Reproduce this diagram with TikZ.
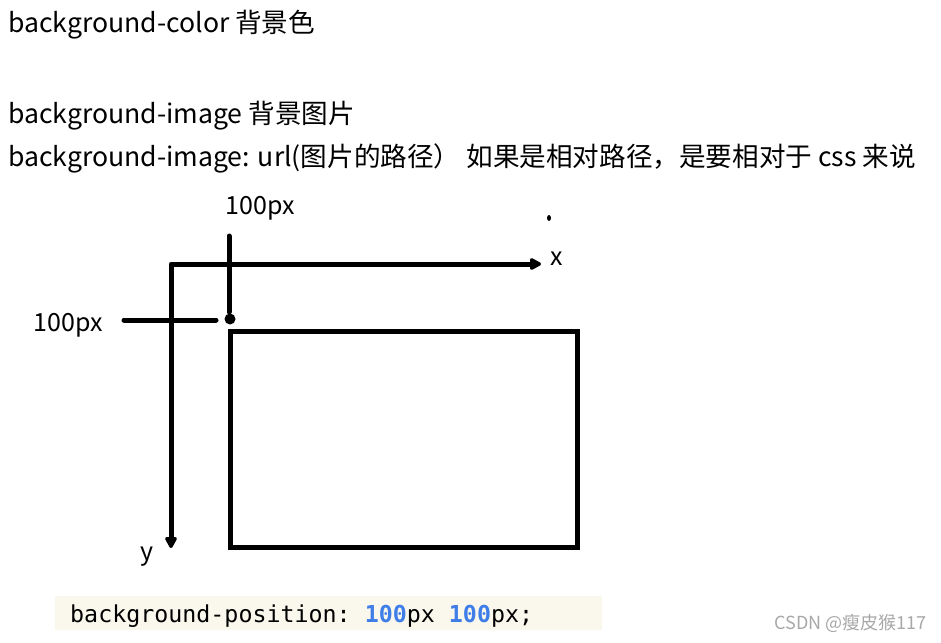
\documentclass[tikz,border=0pt]{standalone}
\usepackage{fontspec}
\setmainfont{Noto Sans CJK SC}
\setmonofont{DejaVu Sans Mono}
\usetikzlibrary{arrows.meta}
\definecolor{codebg}{HTML}{FAF8EC}
\definecolor{numblue}{HTML}{3F7DE8}
\definecolor{wmgray}{HTML}{A8A8A8}
\tikzset{axtip/.tip={Triangle[length=13pt,width=13pt,round]}}
\begin{document}
\begin{tikzpicture}[x=1pt,y=-1pt,
  txt/.style={inner sep=0pt, font=\fontsize{26.6}{30}\selectfont},
  lbl/.style={inner sep=0pt, font=\fontsize{25}{28}\selectfont},
  ax/.style={line width=5pt, line cap=round, line join=round}]
\useasboundingbox[fill=white] (0,0) rectangle (941,642);
% top text
\node[txt, anchor=base west] (l1) at (8,33) {background-color 背景色};
\node[txt, anchor=base west] (l2) at (8,123) {background-image 背景图片};
\node[txt, anchor=base west] (l3) at (8,166) {background-image: url(图片的路径）\ 如果是相对路径，是要相对于 css 来说};
% axes
\coordinate (o) at (171,264);
\coordinate (xe) at (541,264);
\coordinate (ye) at (171,548);
\draw[ax, axtip-axtip] (ye) -- (o) -- (xe);
\node[lbl] (xl) at (557,259) {x};
\node[lbl] (yl) at (147,557) {y};
\fill (549,218) ellipse (2pt and 3pt);
% offset markers
\coordinate (vt) at (229,236);
\coordinate (vb) at (229,312);
\draw[ax] (vt) -- (vb);
\coordinate (hl) at (124,320);
\coordinate (hr) at (216,320);
\draw[ax] (hl) -- (hr);
\fill (230,319) circle (5.5pt);
\node[lbl] (top100) at (260,208) {100px};
\node[lbl] (left100) at (68,325) {100px};
% rectangle
\node[draw, line width=5pt, outer sep=0pt, minimum width=347pt, minimum height=216pt, inner sep=0pt, anchor=north west] (rect) at (230.5,331.5) {};
% code
\node[fill=codebg, minimum width=547pt, minimum height=34pt, inner sep=0pt, anchor=west] (codebox) at (55,613) {};
\node[anchor=base west, inner sep=0pt, font=\ttfamily\fontsize{23.3}{26}\selectfont] (code) at (70,622)
  {background-position: \textcolor{numblue}{\bfseries 100}px \textcolor{numblue}{\bfseries 100}px;};
% watermark
\node[anchor=base east, inner sep=0pt, text=wmgray, font=\fontsize{18}{20}\selectfont] (wm) at (927,629) {CSDN @瘦皮猴117};
\end{tikzpicture}
\end{document}
